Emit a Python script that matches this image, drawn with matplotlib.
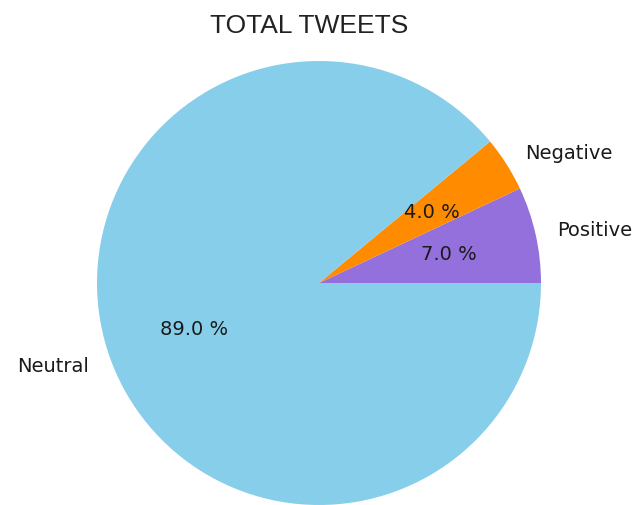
import matplotlib
matplotlib.use("Agg")
from matplotlib import pyplot as plt

# data
labels = ["Positive", "Negative", "Neutral"]
sizes = [7.0, 4.0, 89.0]
colors = ["mediumpurple", "darkorange", "skyblue"]

fig = plt.figure(figsize=(6.38, 5.06), dpi=100)

# pie centre ~ (320, 284) px, radius ~ 222 px
r = 222
span = 2.5 * r
ax = fig.add_axes([(319 - span / 2) / 638, (506 - 284 - span / 2) / 506,
                   span / 638, span / 506])
ax.pie(sizes, labels=labels, colors=colors, autopct="%1.1f %%",
       startangle=0, textprops={"fontsize": 14, "color": "#1a1a1a"})
ax.set_aspect("equal")

fig.text(309 / 638, 1 - 26 / 506, "TOTAL TWEETS", ha="center", va="center",
         fontsize=19, family="Liberation Sans", color="#222222")

fig.savefig("out.png", dpi=100)
